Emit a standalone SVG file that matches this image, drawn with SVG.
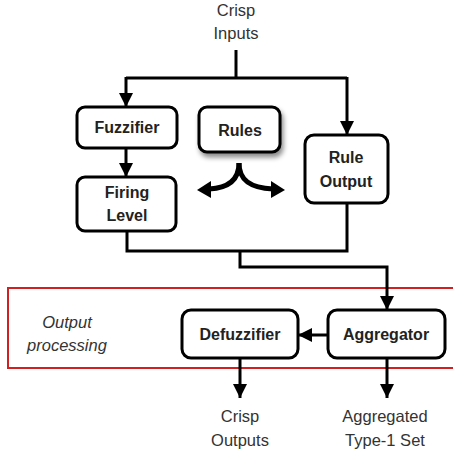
<svg xmlns="http://www.w3.org/2000/svg" width="453" height="459" viewBox="0 0 453 459">
<defs>
<style>
.box{fill:#fff;stroke:#000;stroke-width:3}
.lbl{font-family:"Liberation Sans",Arial,sans-serif;font-weight:bold;font-size:16px;fill:#222;text-anchor:middle}
.txt{font-family:"Liberation Sans",Arial,sans-serif;font-size:16.5px;fill:#333;text-anchor:middle}
.it{font-family:"Liberation Sans",Arial,sans-serif;font-style:italic;font-size:16.5px;fill:#333;text-anchor:middle}
.ln{fill:none;stroke:#000;stroke-width:3}
</style>
<marker id="ah" viewBox="0 0 10 10" refX="10" refY="5" markerWidth="14" markerHeight="14" markerUnits="userSpaceOnUse" orient="auto">
<path d="M0,0 L10,5 L0,10 Z" fill="#000"/>
</marker>
<filter id="sh" x="-20%" y="-20%" width="150%" height="160%">
<feDropShadow dx="2" dy="4" stdDeviation="2.5" flood-color="#000" flood-opacity="0.45"/>
</filter>
</defs>
<rect x="8" y="288" width="450" height="80" fill="none" stroke="#d02020" stroke-width="2"/>
<g id="connectors">
<path class="ln" d="M236,50 V78"/>
<path class="ln" d="M126,78 H347"/>
<path class="ln" d="M126,77 V107" marker-end="url(#ah)"/>
<path class="ln" d="M347,77 V135" marker-end="url(#ah)"/>
<path class="ln" d="M126,148 V177" marker-end="url(#ah)"/>
<path class="ln" d="M127,232 V251 H347 V203"/>
<path class="ln" d="M240,251 V267 H387 V310" marker-end="url(#ah)"/>
<path class="ln" d="M328,335 H298" marker-end="url(#ah)"/>
<path class="ln" d="M240,358 V398" marker-end="url(#ah)"/>
<path class="ln" d="M387,358 V398" marker-end="url(#ah)"/>
<path fill="none" stroke="#000" stroke-width="5" d="M239,163 C239,180 228,188 209,189"/>
<path fill="none" stroke="#000" stroke-width="5" d="M239,163 C239,180 250,188 273,189"/>
<polygon points="197,190 211,181 211,198" fill="#000"/>
<polygon points="285,190 271,181 271,198" fill="#000"/>
</g>
<g id="crisp-inputs"><text class="txt" x="236" y="16">Crisp</text><text class="txt" x="236" y="39">Inputs</text></g>
<g id="fuzzifier"><rect class="box" x="77" y="107" width="100" height="41" rx="8"/><text class="lbl" x="127" y="133">Fuzzifier</text></g>
<g id="rules"><rect class="box" x="199" y="107" width="81" height="45" rx="8" filter="url(#sh)"/><text class="lbl" x="240" y="136">Rules</text></g>
<g id="rule-output"><rect class="box" x="305" y="135" width="83" height="68" rx="9"/><text class="lbl" x="346" y="163">Rule</text><text class="lbl" x="346" y="187">Output</text></g>
<g id="firing-level"><rect class="box" x="77" y="177" width="99" height="54" rx="8"/><text class="lbl" x="127" y="198">Firing</text><text class="lbl" x="127" y="221">Level</text></g>
<g id="output-processing"><text class="it" x="67" y="328">Output</text><text class="it" x="67" y="351">processing</text></g>
<g id="defuzzifier"><rect class="box" x="182" y="310" width="116" height="48" rx="9"/><text class="lbl" x="240" y="340">Defuzzifier</text></g>
<g id="aggregator"><rect class="box" x="328" y="310" width="117" height="48" rx="9"/><text class="lbl" x="386" y="340">Aggregator</text></g>
<g id="crisp-outputs"><text class="txt" x="240" y="422">Crisp</text><text class="txt" x="240" y="446">Outputs</text></g>
<g id="aggregated"><text class="txt" x="385" y="422">Aggregated</text><text class="txt" x="385" y="446">Type-1 Set</text></g>
</svg>
